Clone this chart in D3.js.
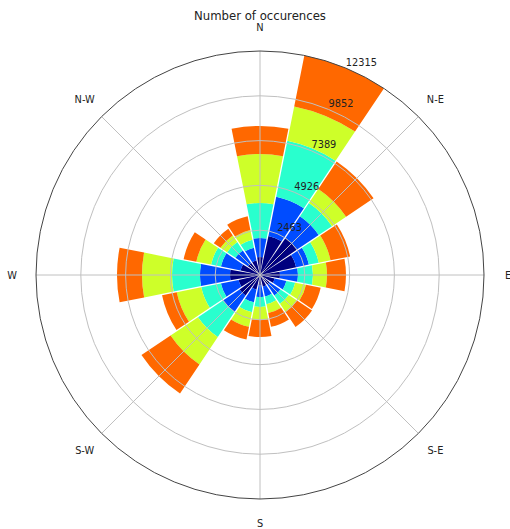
<!DOCTYPE html>
<html>
<head>
<meta charset="utf-8">
<script src="https://cdn.jsdelivr.net/npm/d3@7"></script>
<style>
  html, body { margin: 0; padding: 0; background: #ffffff; }
  svg { display: block; font-family: "DejaVu Sans", sans-serif; }
</style>
</head>
<body>
<svg id="chart" width="510" height="529"></svg>
<script>
// Compass sectors, clockwise from north
const directions = ["N", "NNE", "NE", "ENE", "E", "ESE", "SE", "SSE",
                    "S", "SSW", "SW", "WSW", "W", "WNW", "NW", "NNW"];

// Occurrence counts per speed bin (lowest bin first), one entry per sector
const bin1 = [ 990, 2200, 2474, 2034, 1100,  825,  660,  660,  550,  825, 1375, 1210, 1649, 1100,  825,  825];
const bin2 = [1044, 2198, 1430,  715,  989,  659,  715,  550,  660,  714, 1099,  989, 1650, 1099,  824,  714];
const bin3 = [1925, 3134,  879,  550,  825,  495,  549,  439,  549,  550, 1650, 1100, 1539,  550,  550,  440];
const bin4 = [2694, 1925,  935,  660,  770,  605,  550,  495,  715,  825, 1814, 1374, 1650,  825,  440,  550];
const bin5 = [1539, 2858, 1814, 1099, 1044,  825,  990,  770,  935,  715, 1924,  825, 1374,  714,  440,  770];

const binKeys = ["b1", "b2", "b3", "b4", "b5"];
const binColors = ["#00007f", "#004cff", "#29ffce", "#ceff29", "#ff6800"];

// Radial tick values and compass labels
const radialTicks = [2463, 4926, 7389, 9852, 12315];
const compassLabels = ["N", "N-E", "E", "S-E", "S", "S-W", "W", "N-W"];

const title = "Number of occurences";

// Build rows for stacking
const rows = directions.map((d, i) => ({
  dir: d,
  b1: bin1[i], b2: bin2[i], b3: bin3[i], b4: bin4[i], b5: bin5[i]
}));

const svg = d3.select("#chart");
const cx = 260, cy = 275, R = 224;

const g = svg.append("g").attr("transform", `translate(${cx},${cy})`);

const rScale = d3.scaleLinear().domain([0, d3.max(radialTicks)]).range([0, R]);
const angle = d3.scaleBand().domain(directions).range([0, 2 * Math.PI]);
const color = d3.scaleOrdinal().domain(binKeys).range(binColors);

const series = d3.stack().keys(binKeys)(rows);

const half = angle.bandwidth() / 2;

// Sector wedges with a thin constant-width gap between neighbouring sectors
const arc = d3.arc()
  .innerRadius(d => rScale(d[0]))
  .outerRadius(d => rScale(d[1]))
  .startAngle(d => angle(d.data.dir) - half)
  .endAngle(d => angle(d.data.dir) + half)
  .padAngle(0.013)
  .padRadius(100);

// Stacked bars
g.append("g").selectAll("g")
  .data(series)
  .join("g")
    .attr("fill", s => color(s.key))
  .selectAll("path")
  .data(s => s)
  .join("path")
    .attr("d", arc);

// Grid: rings
const grid = g.append("g").attr("fill", "none");
grid.selectAll("circle.ring")
  .data(radialTicks.slice(0, -1))
  .join("circle")
    .attr("class", "ring")
    .attr("r", d => rScale(d))
    .attr("stroke", "#c0c0c0")
    .attr("stroke-width", 1);

// Grid: spokes every 45 degrees
const spokeAngles = d3.range(0, 360, 45);
grid.selectAll("line")
  .data(spokeAngles)
  .join("line")
    .attr("x1", 0).attr("y1", 0)
    .attr("x2", a => R * Math.sin(a * Math.PI / 180))
    .attr("y2", a => -R * Math.cos(a * Math.PI / 180))
    .attr("stroke", "#c0c0c0")
    .attr("stroke-width", 1);

// Outer boundary
g.append("circle")
  .attr("r", R)
  .attr("fill", "none")
  .attr("stroke", "#444444")
  .attr("stroke-width", 1);

// Radial tick labels along the 22.5 degree line
const labelAngle = 22.5 * Math.PI / 180;
g.append("g").selectAll("text")
  .data(radialTicks)
  .join("text")
    .attr("x", d => rScale(d) * Math.sin(labelAngle))
    .attr("y", d => -rScale(d) * Math.cos(labelAngle) - 2.5)
    .attr("text-anchor", "start")
    .attr("font-size", 9.8)
    .attr("fill", "#222222")
    .text(d => d);

// Compass labels
const labelR = 248;
g.append("g").selectAll("text")
  .data(compassLabels)
  .join("text")
    .attr("x", (d, i) => labelR * Math.sin(i * Math.PI / 4))
    .attr("y", (d, i) => -labelR * Math.cos(i * Math.PI / 4))
    .attr("text-anchor", "middle")
    .attr("dominant-baseline", "central")
    .attr("font-size", 9.8)
    .attr("fill", "#222222")
    .text(d => d);

// Title
svg.append("text")
  .attr("x", cx)
  .attr("y", 16)
  .attr("text-anchor", "middle")
  .attr("dominant-baseline", "central")
  .attr("font-size", 11.7)
  .attr("fill", "#222222")
  .text(title);
</script>
</body>
</html>
